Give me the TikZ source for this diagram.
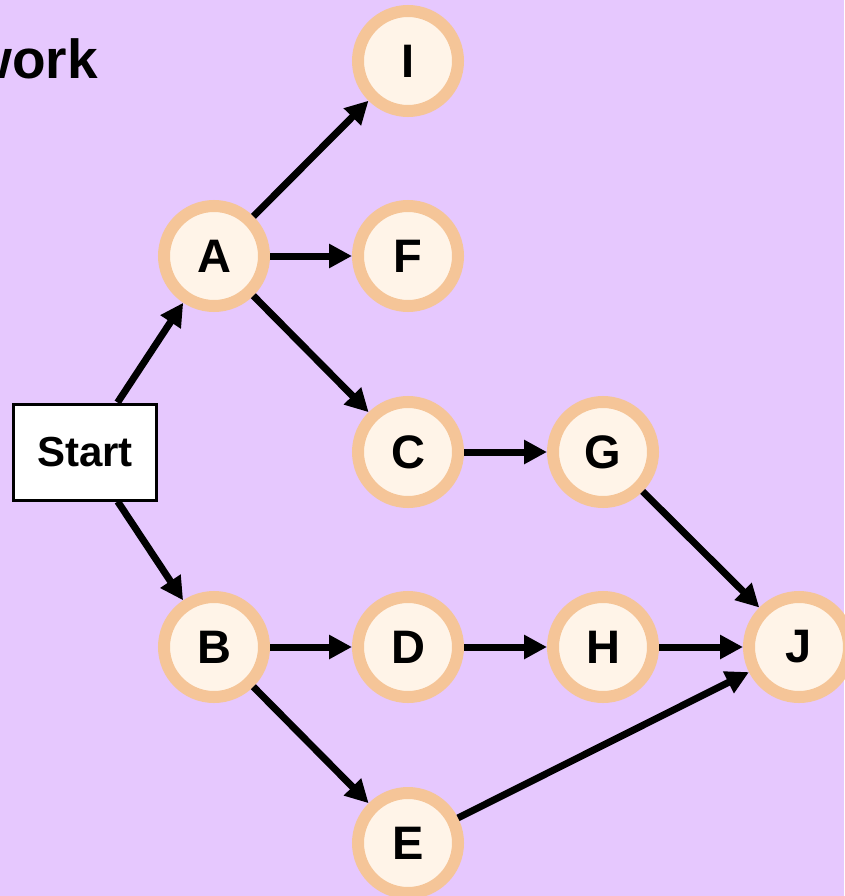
\documentclass[tikz,border=0pt]{standalone}
\usepackage{fontspec}
\setmainfont{Liberation Sans}
\usetikzlibrary{arrows.meta,positioning}
\definecolor{lavender}{HTML}{E6C8FE}
\definecolor{ringorange}{HTML}{F5C598}
\definecolor{cream}{HTML}{FFF4E8}

\begin{document}
\begin{tikzpicture}[
    x=1pt,y=-1pt,
    >={Triangle[length=23pt,width=23pt]},
    task/.style={circle,draw=ringorange,fill=cream,line width=12pt,
      minimum size=100pt,inner sep=0pt,outer sep=6pt,
      font=\fontsize{47}{47}\selectfont\bfseries},
    startbox/.style={rectangle,draw=black,fill=white,line width=3pt,
      minimum width=143pt,minimum height=96pt,outer sep=1.5pt,
      font=\fontsize{42}{42}\selectfont\bfseries},
    link/.style={->,line width=7pt}
]

% background
\fill[lavender] (0,0) rectangle (844,896);
\useasboundingbox (0,0) rectangle (844,896);

% title (cut off at the left)
\node[anchor=base east,inner sep=0pt,font=\fontsize{55}{55}\selectfont\bfseries]
  (title) at (98,79) {work};

% nodes
\node[startbox] (start) at (85,452) {Start};

\node[task] (A) at (214,256) {A};
\node[task] (B) at (214,647) {B};
\node[task] (I) at (408,61)  {I};
\node[task] (F) at (408,256) {F};
\node[task] (C) at (408,452) {C};
\node[task] (D) at (408,647) {D};
\node[task] (E) at (408,843) {E};
\node[task] (G) at (603,452) {G};
\node[task] (H) at (603,647) {H};
\node[task] (J) at (799,647) {J};

% arrows
\draw[link] (start) -- (A);
\draw[link] (start) -- (B);

\draw[link] (A) -- (I);
\draw[link] (A) -- (F);
\draw[link] (A) -- (C);
\draw[link] (C) -- (G);
\draw[link] (G) -- (J);

\draw[link] (B) -- (D);
\draw[link] (D) -- (H);
\draw[link] (H) -- (J);
\draw[link] (B) -- (E);
\draw[link] (E) -- (J);

\end{tikzpicture}
\end{document}
